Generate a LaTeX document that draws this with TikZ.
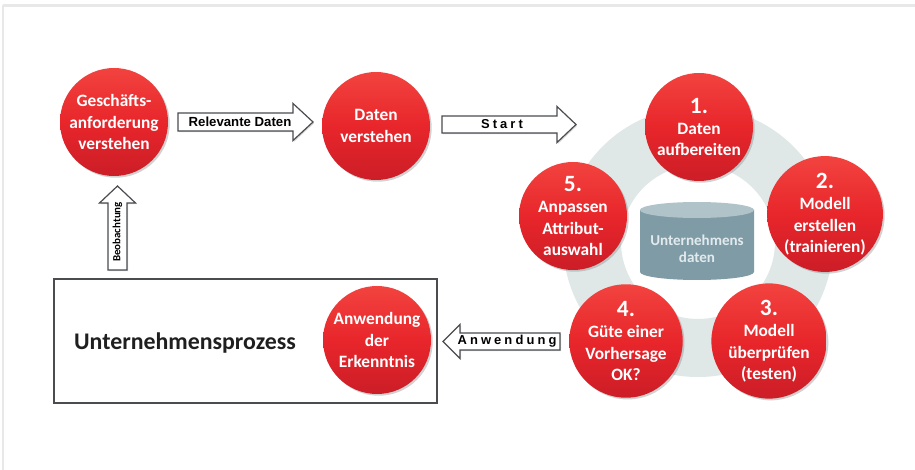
\documentclass[tikz,border=0pt]{standalone}
\usepackage{fontspec}
\setmainfont{Carlito}
\newfontfamily\arrowfont{Liberation Sans}
\newfontfamily\spacedfont[LetterSpace=24]{Liberation Sans}
\usetikzlibrary{shadows}

\definecolor{redtop}{HTML}{F2433F}
\definecolor{redmid}{HTML}{E8262B}
\definecolor{redbot}{HTML}{CC1D27}
\definecolor{ringgray}{HTML}{DFE7E7}
\definecolor{cylbody}{HTML}{7F9CA6}
\definecolor{cyltop}{HTML}{AFC3C9}
\definecolor{cyltext}{HTML}{E2EAEE}
\definecolor{edgegray}{HTML}{4A4C50}
\definecolor{framegray}{HTML}{E8E8E8}

\tikzset{
  redball/.style={circle, minimum size=81pt, inner sep=0pt,
    top color=redtop, bottom color=redbot, middle color=redmid,
    drop shadow={shadow xshift=1.3pt, shadow yshift=-1.3pt, opacity=0.35},
    text=white, align=center,
    font=\bfseries\fontsize{13}{16}\selectfont},
  blockarrow/.style={draw=edgegray, line width=0.9pt, fill=white,
    line join=miter,
    drop shadow={shadow xshift=0.9pt, shadow yshift=-0.9pt, opacity=0.3}},
  arrowlabel/.style={inner sep=0pt, text=black,
    font=\arrowfont\bfseries\fontsize{9.9}{10}\selectfont},
  spacedlabel/.style={inner sep=0pt, text=black,
    font=\spacedfont\bfseries\fontsize{9.7}{10}\selectfont},
  processbox/.style={draw=edgegray, line width=1.1pt, fill=white,
    drop shadow={shadow xshift=0.8pt, shadow yshift=-0.8pt, opacity=0.25}},
}
\newcommand\stepnum[1]{{\fontsize{17.5}{17}\selectfont #1}}

\begin{document}
\begin{tikzpicture}[x=0.75pt, y=-0.75pt]
  % canvas
  \useasboundingbox (0,0) rectangle (915,470);
  \fill[white] (0,0) rectangle (915,470);
  % soft frame edge at top and left
  \draw[framegray, line width=2.2pt] (3,5.5) -- (915,5.5);
  \draw[framegray, line width=2.2pt] (3,5.5) -- (3,470);

  % cycle ring behind the five steps
  \fill[ringgray, even odd rule]
    (698,242) circle[radius=101.25pt] (698,242) circle[radius=57.75pt];

  % data store cylinder
  \fill[cylbody] (640,210) -- (640,272)
    arc[start angle=180, end angle=360, x radius=42.75pt, y radius=6pt]
    -- (754,210) -- cycle;
  \fill[cyltop] (697,210) ellipse[x radius=42.75pt, y radius=6pt];
  \node[text=cyltext, align=center,
        font=\bfseries\fontsize{11.3}{13}\selectfont] (db) at (697,249)
    {Unternehmens\\daten};

  % main circles
  \node[redball] (biz) at (114,122) {Geschäfts-\\anforderung\\verstehen};
  \node[redball] (understand) at (376,126) {Daten\\verstehen};
  \node[redball] (s1) at (699,127) {\stepnum{1.}\\Daten\\aufbereiten};
  \node[redball] (s2) at (825,214) {\stepnum{2.}\\Modell\\erstellen\\(trainieren)};
  \node[redball] (s3) at (769,341) {\stepnum{3.}\\Modell\\überprüfen\\(testen)};
  \node[redball] (s4) at (626,341) {\stepnum{4.}\\Güte einer\\Vorhersage\\OK?};
  \node[redball] (s5) at (573,216) {\stepnum{5.}\\Anpassen\\Attribut-\\auswahl};

  % business process box
  \node[processbox, minimum width=287.25pt, minimum height=93pt, inner sep=0pt]
    (process) at (245.5,341) {};
  \node[text=black!88, inner sep=0pt,
        font=\bfseries\fontsize{17.9}{20}\selectfont] (proclabel) at (185,343)
    {Unternehmensprozess};
  \node[redball] (apply) at (377,340) {Anwendung\\der\\Erkenntnis};

  % block arrows
  \draw[blockarrow] (178,113) -- (293,113) -- (293,103.5) -- (313,122)
    -- (293,140.5) -- (293,131) -- (178,131) -- cycle;
  \node[arrowlabel] (relevant) at (240,121.5) {Relevante Daten};

  \draw[blockarrow] (442,116) -- (557,116) -- (557,106.5) -- (576,124.5)
    -- (557,142.5) -- (557,133) -- (442,133) -- cycle;
  \node[spacedlabel] (start) at (502,124.5) {Start};

  \draw[blockarrow] (560,333) -- (460,333) -- (460,324.5) -- (443,341.5)
    -- (460,358.5) -- (460,350) -- (560,350) -- cycle;
  \node[spacedlabel] (use) at (507,341.5) {Anwendung};

  \draw[blockarrow] (108,270) -- (108,203) -- (99.5,203) -- (117.5,186)
    -- (135.5,203) -- (127,203) -- (127,270) -- cycle;
  \node[rotate=90, inner sep=0pt, text=black,
        font=\bfseries\fontsize{8.2}{9}\selectfont] (observe) at (117.5,232)
    {Beobachtung};
\end{tikzpicture}
\end{document}
